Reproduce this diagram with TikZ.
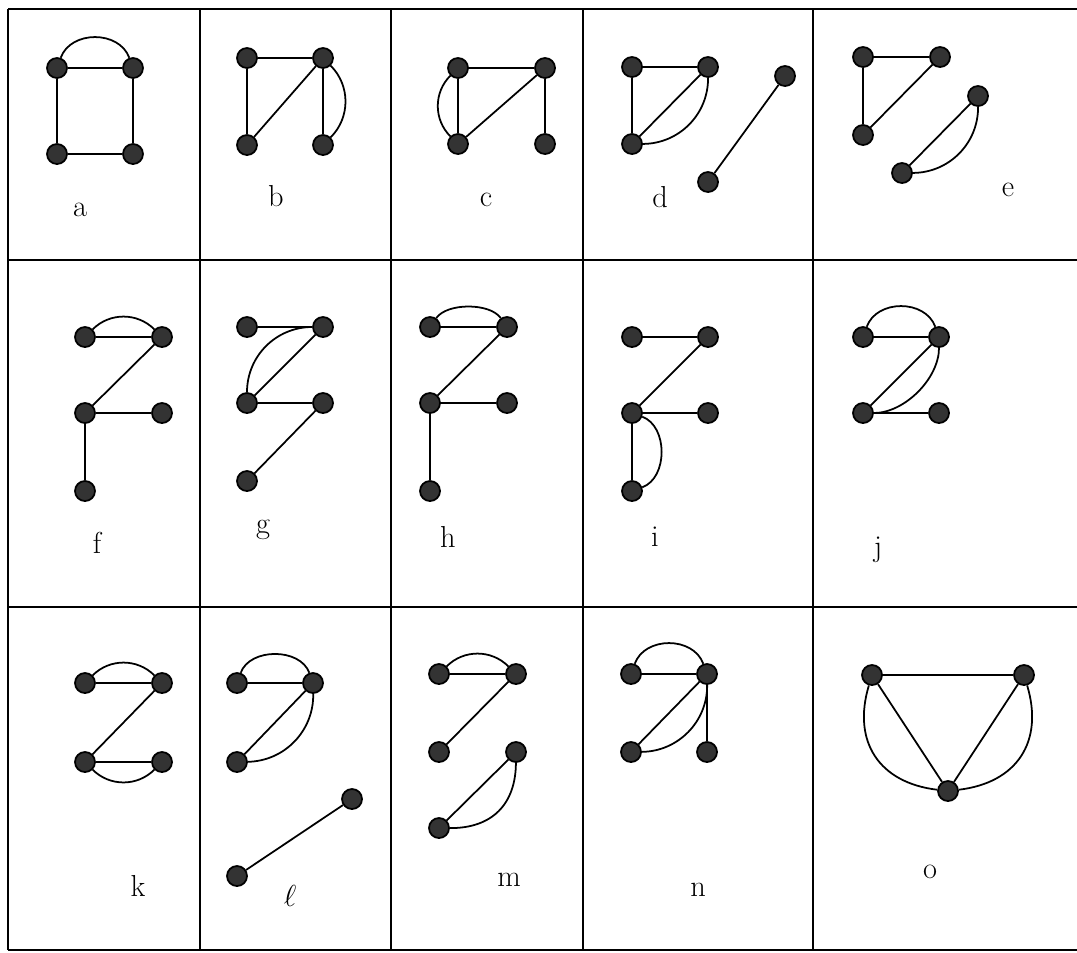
\documentclass[tikz,border=0pt]{standalone}
\usetikzlibrary{positioning}

\begin{document}
\begin{tikzpicture}[
    x=0.2mm, y=0.2mm, line width=1pt,
    vertex/.style={circle, draw, fill=black!80, inner sep=0pt, minimum size=4mm},
    cellname/.style={font=\LARGE}
]
    \useasboundingbox (0,0) rectangle (1077,-952);

    % table
    \draw (8,-9) -- (1077,-9);
    \draw (8,-260) -- (1077,-260);
    \draw (8,-607) -- (1077,-607);
    \draw (8,-950) -- (1077,-950);
    \foreach \x in {8,200,391,583,813}
        \draw (\x,-9) -- (\x,-950);

    % a
    \node[vertex] (a1) at (57,-68) {};
    \node[vertex] (a2) at (133,-68) {};
    \node[vertex] (a3) at (57,-154) {};
    \node[vertex] (a4) at (133,-154) {};
    \draw (a1) -- (a2) -- (a4) -- (a3) -- (a1);
    \draw (a1) to[bend left=70, looseness=1.1] (a2);
    \node[cellname] (ta) at (80,-210) {a};

    % b
    \node[vertex] (b1) at (247,-58) {};
    \node[vertex] (b2) at (323,-58) {};
    \node[vertex] (b3) at (247,-145) {};
    \node[vertex] (b4) at (323,-145) {};
    \draw (b1) -- (b2);
    \draw (b1) -- (b3);
    \draw (b3) -- (b2);
    \draw (b2) -- (b4);
    \draw (b2) to[bend left=45] (b4);
    \node[cellname] (tb) at (276,-196) {b};

    % c
    \node[vertex] (c1) at (458,-68) {};
    \node[vertex] (c2) at (545,-68) {};
    \node[vertex] (c3) at (458,-144) {};
    \node[vertex] (c4) at (545,-144) {};
    \draw (c1) -- (c2);
    \draw (c1) -- (c3);
    \draw (c3) -- (c2);
    \draw (c2) -- (c4);
    \draw (c1) to[bend right=45] (c3);
    \node[cellname] (tc) at (486,-200) {c};

    % d
    \node[vertex] (d1) at (632,-67) {};
    \node[vertex] (d2) at (708,-67) {};
    \node[vertex] (d3) at (632,-144) {};
    \node[vertex] (d4) at (708,-182) {};
    \node[vertex] (d5) at (785,-76) {};
    \draw (d1) -- (d2);
    \draw (d1) -- (d3);
    \draw (d3) -- (d2);
    \draw (d3) to[bend right=45] (d2);
    \draw (d4) -- (d5);
    \node[cellname] (td) at (660,-197) {d};

    % e
    \node[vertex] (e1) at (863,-57) {};
    \node[vertex] (e2) at (940,-57) {};
    \node[vertex] (e3) at (863,-135) {};
    \node[vertex] (e4) at (978,-96) {};
    \node[vertex] (e5) at (902,-173) {};
    \draw (e1) -- (e2);
    \draw (e1) -- (e3);
    \draw (e3) -- (e2);
    \draw (e5) -- (e4);
    \draw (e5) to[bend right=45] (e4);
    \node[cellname] (te) at (1008,-190) {e};

    % f
    \node[vertex] (f1) at (85,-337) {};
    \node[vertex] (f2) at (162,-337) {};
    \node[vertex] (f3) at (85,-413) {};
    \node[vertex] (f4) at (162,-413) {};
    \node[vertex] (f5) at (85,-491) {};
    \draw (f1) -- (f2);
    \draw (f1) to[bend left=45] (f2);
    \draw (f3) -- (f2);
    \draw (f3) -- (f4);
    \draw (f3) -- (f5);
    \node[cellname] (tf) at (97,-543) {f};

    % g
    \node[vertex] (g1) at (247,-327) {};
    \node[vertex] (g2) at (323,-327) {};
    \node[vertex] (g3) at (247,-403) {};
    \node[vertex] (g4) at (323,-403) {};
    \node[vertex] (g5) at (247,-481) {};
    \draw (g1) -- (g2);
    \draw (g3) -- (g2);
    \draw (g3) to[bend left=45] (g2);
    \draw (g3) -- (g4);
    \draw (g5) -- (g4);
    \node[cellname] (tg) at (263,-530) {g};

    % h
    \node[vertex] (h1) at (430,-327) {};
    \node[vertex] (h2) at (507,-327) {};
    \node[vertex] (h3) at (430,-403) {};
    \node[vertex] (h4) at (507,-403) {};
    \node[vertex] (h5) at (430,-491) {};
    \draw (h1) -- (h2);
    \draw (h1) to[bend left=55, looseness=0.75] (h2);
    \draw (h3) -- (h2);
    \draw (h3) -- (h4);
    \draw (h3) -- (h5);
    \node[cellname] (th) at (448,-537) {h};

    % i
    \node[vertex] (i1) at (632,-337) {};
    \node[vertex] (i2) at (708,-337) {};
    \node[vertex] (i3) at (632,-413) {};
    \node[vertex] (i4) at (708,-413) {};
    \node[vertex] (i5) at (632,-491) {};
    \draw (i1) -- (i2);
    \draw (i3) -- (i2);
    \draw (i3) -- (i4);
    \draw (i3) -- (i5);
    \draw (i3) to[bend left=70] (i5);
    \node[cellname] (ti) at (655,-537) {i};

    % j
    \node[vertex] (j1) at (863,-337) {};
    \node[vertex] (j2) at (939,-337) {};
    \node[vertex] (j3) at (863,-413) {};
    \node[vertex] (j4) at (939,-413) {};
    \draw (j1) -- (j2);
    \draw (j1) to[bend left=70, looseness=1.1] (j2);
    \draw (j3) -- (j2);
    \draw (j2) to[bend left=45, looseness=0.85] (j3);
    \draw (j3) -- (j4);
    \node[cellname] (tj) at (878,-550) {j};

    % k
    \node[vertex] (k1) at (85,-683) {};
    \node[vertex] (k2) at (162,-683) {};
    \node[vertex] (k3) at (85,-762) {};
    \node[vertex] (k4) at (162,-762) {};
    \draw (k1) -- (k2);
    \draw (k1) to[bend left=45] (k2);
    \draw (k3) -- (k2);
    \draw (k3) -- (k4);
    \draw (k3) to[bend right=45] (k4);
    \node[cellname] (tk) at (138,-886) {k};

    % l
    \node[vertex] (l1) at (237,-683) {};
    \node[vertex] (l2) at (313,-683) {};
    \node[vertex] (l3) at (237,-762) {};
    \node[vertex] (l4) at (352,-799) {};
    \node[vertex] (l5) at (237,-876) {};
    \draw (l1) -- (l2);
    \draw (l1) to[bend left=70] (l2);
    \draw (l3) -- (l2);
    \draw (l2) to[bend left=45] (l3);
    \draw (l5) -- (l4);
    \node[cellname] (tl) at (290,-896) {$\ell$};

    % m
    \node[vertex] (m1) at (439,-674) {};
    \node[vertex] (m2) at (516,-674) {};
    \node[vertex] (m3) at (439,-752) {};
    \node[vertex] (m4) at (516,-752) {};
    \node[vertex] (m5) at (439,-828) {};
    \draw (m1) -- (m2);
    \draw (m1) to[bend left=45] (m2);
    \draw (m3) -- (m2);
    \draw (m5) -- (m4);
    \draw (m4) to[bend left=45, looseness=1.15] (m5);
    \node[cellname] (tm) at (509,-880) {m};

    % n
    \node[vertex] (n1) at (631,-674) {};
    \node[vertex] (n2) at (707,-674) {};
    \node[vertex] (n3) at (631,-752) {};
    \node[vertex] (n4) at (707,-752) {};
    \draw (n1) -- (n2);
    \draw (n1) to[bend left=70, looseness=1.1] (n2);
    \draw (n3) -- (n2);
    \draw (n2) to[bend left=45] (n3);
    \draw (n2) -- (n4);
    \node[cellname] (tn) at (698,-890) {n};

    % o
    \node[vertex] (o1) at (872,-675) {};
    \node[vertex] (o2) at (1024,-675) {};
    \node[vertex] (o3) at (948,-791) {};
    \draw (o1) -- (o2);
    \draw (o1) -- (o3);
    \draw (o2) -- (o3);
    \draw (o1) to[bend right=50, looseness=1.2] (o3);
    \draw (o2) to[bend left=50, looseness=1.2] (o3);
    \node[cellname] (to) at (930,-872) {o};
\end{tikzpicture}
\end{document}
